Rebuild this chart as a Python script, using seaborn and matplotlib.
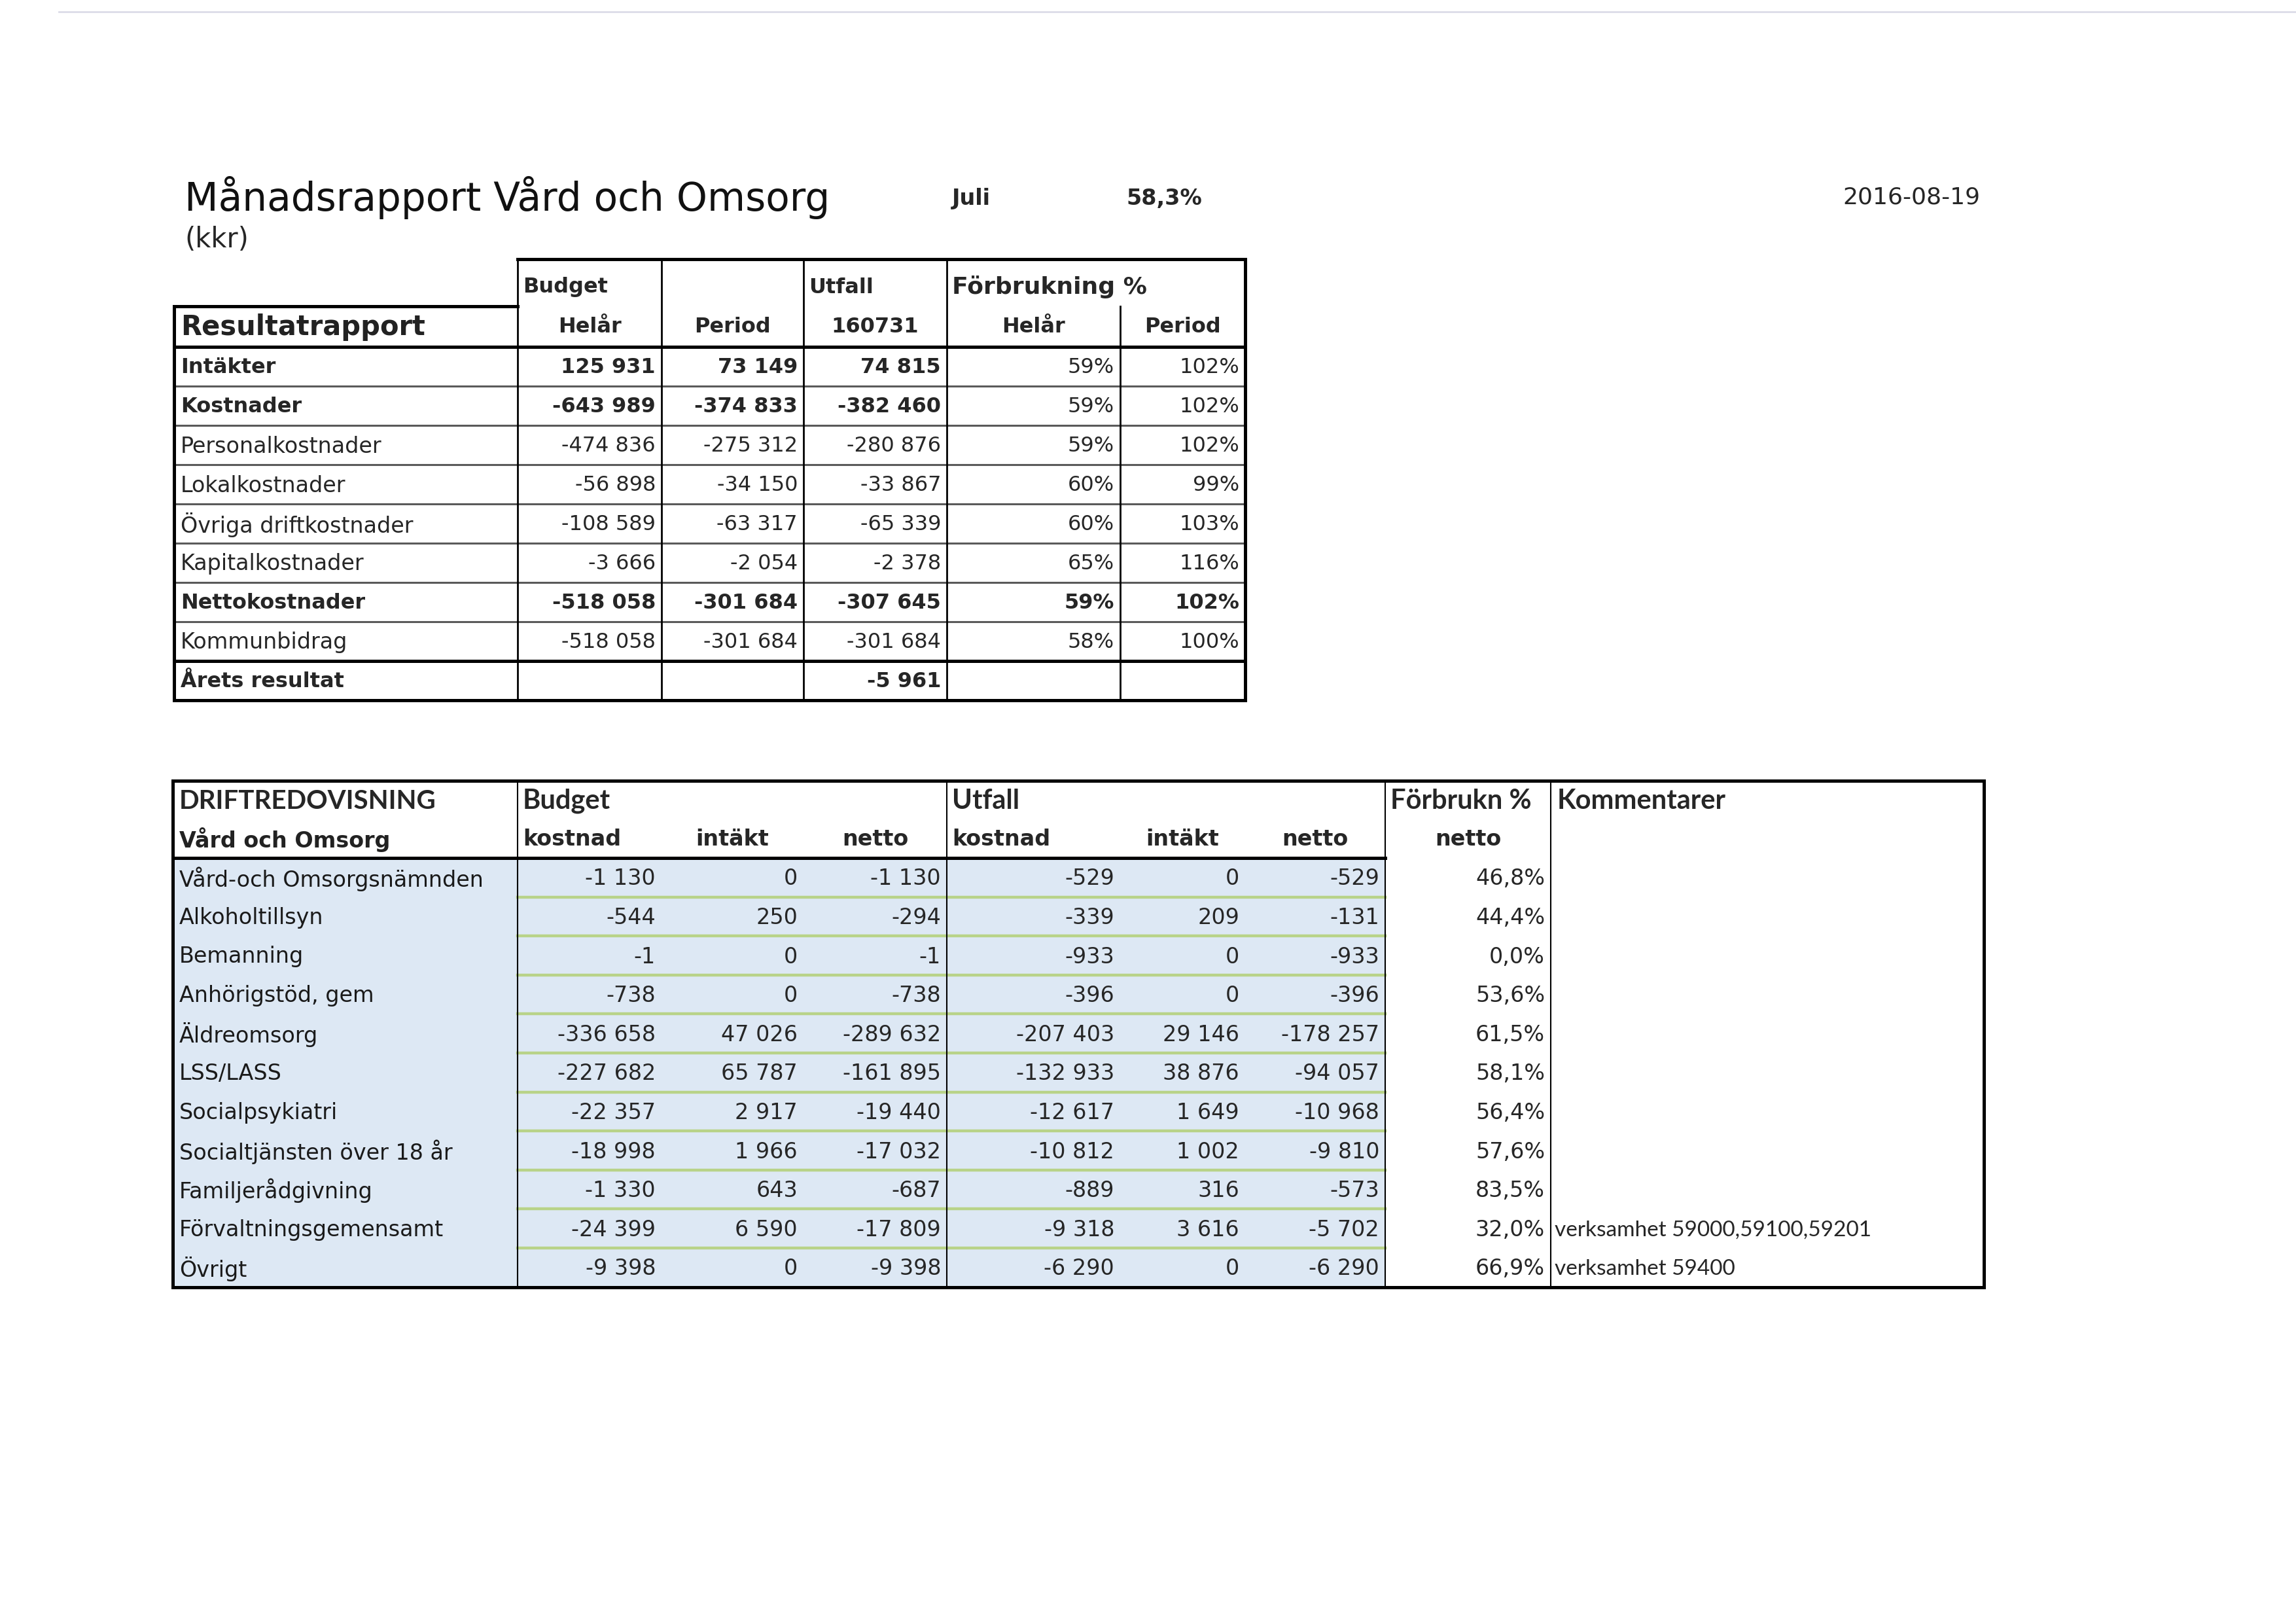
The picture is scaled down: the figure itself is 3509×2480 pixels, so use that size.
"""
Månadsrapport Vård och Omsorg - Juli 2016
Rebuild of the scanned monthly report tables
"""

import numpy as np
import matplotlib
matplotlib.use('Agg')
import matplotlib.pyplot as plt
import seaborn as sns

sns.set_theme(style='white')
plt.rcParams['font.family'] = ['DejaVu Sans']

# ============================================================================
# DATA
# ============================================================================
report_title = 'Månadsrapport Vård och Omsorg'
report_month = 'Juli'
report_share = '58,3%'
report_date = '2016-08-19'
report_unit = '(kkr)'

# Resultatrapport
res_labels = ['Intäkter', 'Kostnader', 'Personalkostnader', 'Lokalkostnader',
              'Övriga driftkostnader', 'Kapitalkostnader', 'Nettokostnader',
              'Kommunbidrag', 'Årets resultat']
res_bold = [True, True, False, False, False, False, True, False, True]
res_budget_helar = [125931, -643989, -474836, -56898, -108589, -3666, -518058, -518058, None]
res_budget_period = [73149, -374833, -275312, -34150, -63317, -2054, -301684, -301684, None]
res_utfall = [74815, -382460, -280876, -33867, -65339, -2378, -307645, -301684, -5961]
res_forbr_helar = [59, 59, 59, 60, 60, 65, 59, 58, None]
res_forbr_period = [102, 102, 102, 99, 103, 116, 102, 100, None]
res_utfall_date = '160731'

# Driftredovisning
drift_labels = ['Vård-och Omsorgsnämnden', 'Alkoholtillsyn', 'Bemanning',
                'Anhörigstöd, gem', 'Äldreomsorg', 'LSS/LASS', 'Socialpsykiatri',
                'Socialtjänsten över 18 år', 'Familjerådgivning',
                'Förvaltningsgemensamt', 'Övrigt']
budget_kostnad = [-1130, -544, -1, -738, -336658, -227682, -22357, -18998, -1330, -24399, -9398]
budget_intakt = [0, 250, 0, 0, 47026, 65787, 2917, 1966, 643, 6590, 0]
budget_netto = [-1130, -294, -1, -738, -289632, -161895, -19440, -17032, -687, -17809, -9398]
utfall_kostnad = [-529, -339, -933, -396, -207403, -132933, -12617, -10812, -889, -9318, -6290]
utfall_intakt = [0, 209, 0, 0, 29146, 38876, 1649, 1002, 316, 3616, 0]
utfall_netto = [-529, -131, -933, -396, -178257, -94057, -10968, -9810, -573, -5702, -6290]
forbrukn_netto = [46.8, 44.4, 0.0, 53.6, 61.5, 58.1, 56.4, 57.6, 83.5, 32.0, 66.9]
kommentarer = ['', '', '', '', '', '', '', '', '',
               'verksamhet 59000,59100,59201', 'verksamhet 59400']


def kr(v):
    # swedish thousands separator
    return '' if v is None else f'{v:,}'.replace(',', ' ')


def pct0(v):
    return '' if v is None else f'{v:.0f}%'


def pct1(v):
    return f'{v:.1f}%'.replace('.', ',')


# ============================================================================
# LAYOUT (pixel grid of the page)
# ============================================================================
W, H = 3509, 2480
COL_X = [266, 791, 1011, 1228, 1447, 1712, 1903, 2117, 2370, 3032]
PAD = 9

THICK = 3.6
THIN = 1.5

fig = plt.figure(figsize=(W / 100, H / 100), dpi=100)
ax = fig.add_axes([0, 0, 1, 1])
ax.set_xlim(0, W)
ax.set_ylim(H, 0)
ax.axis('off')


def hline(y, x0, x1, lw=THIN, color='black'):
    ax.plot([x0, x1], [y, y], color=color, lw=lw, solid_capstyle='projecting')


def vline(x, y0, y1, lw=THIN, color='black'):
    ax.plot([x, x], [y0, y1], color=color, lw=lw, solid_capstyle='projecting')


# faint scanner line at the top of the page
hline(18, 90, W, lw=2.0, color='#dcdce8')

# ============================================================================
# PAGE HEADER
# ============================================================================
ax.text(282, 322, report_title, fontsize=43, ha='left', va='baseline', color='#111111')
ax.text(1455, 313, report_month, fontsize=24, fontweight='bold', ha='left', va='baseline')
ax.text(1721, 313, report_share, fontsize=24, fontweight='bold', ha='left', va='baseline')
ax.text(3026, 312, report_date, fontsize=26, ha='right', va='baseline')
ax.text(282, 378, report_unit, fontsize=30, ha='left', va='baseline')

# ============================================================================
# TABLE 1: RESULTATRAPPORT
# ============================================================================
t1_top, t1_lab_top, t1_head_bot, t1_row_h = 396, 468, 530, 60
t1_n = len(res_labels)
t1_bot = t1_head_bot + t1_n * t1_row_h
t1_right = COL_X[6]

# header texts
h1_y, h2_y = 439, 500
ax.text(COL_X[1] + 8, h1_y, 'Budget', fontsize=23, fontweight='bold', va='center')
ax.text(COL_X[3] + 8, h1_y, 'Utfall', fontsize=23, fontweight='bold', va='center')
ax.text(COL_X[4] + 8, h1_y, 'Förbrukning %', fontsize=26, fontweight='bold', va='center')
ax.text(COL_X[0] + 10, h2_y, 'Resultatrapport', fontsize=30, fontweight='bold',
        va='center', color='#222222')
for j, txt in enumerate(['Helår', 'Period', res_utfall_date, 'Helår', 'Period']):
    xc = (COL_X[j + 1] + COL_X[j + 2]) / 2
    ax.text(xc, h2_y, txt, fontsize=23, fontweight='bold', ha='center', va='center')

# body
cols1 = [res_budget_helar, res_budget_period, res_utfall]
for i, lab in enumerate(res_labels):
    yc = t1_head_bot + (i + 0.5) * t1_row_h + 2
    w = 'bold' if res_bold[i] else 'normal'
    ax.text(COL_X[0] + 10, yc, lab, fontsize=24 if not res_bold[i] else 23,
            fontweight=w, va='center')
    for j, col in enumerate(cols1):
        ax.text(COL_X[j + 2] - PAD, yc, kr(col[i]), fontsize=23, fontweight=w,
                ha='right', va='center')
    wp = 'bold' if lab == 'Nettokostnader' else 'normal'
    ax.text(COL_X[5] - PAD, yc, pct0(res_forbr_helar[i]), fontsize=23, fontweight=wp,
            ha='right', va='center')
    ax.text(COL_X[6] - PAD, yc, pct0(res_forbr_period[i]), fontsize=23, fontweight=wp,
            ha='right', va='center')

# grid
for k in range(1, t1_n - 1):
    hline(t1_head_bot + k * t1_row_h, COL_X[0], t1_right, lw=2.2, color='#5a5a5a')
hline(t1_top, COL_X[1], t1_right, lw=THICK)
hline(t1_lab_top, COL_X[0], COL_X[1], lw=THICK)
hline(t1_head_bot, COL_X[0], t1_right, lw=THICK)
hline(t1_bot - t1_row_h, COL_X[0], t1_right, lw=THICK)
hline(t1_bot, COL_X[0], t1_right, lw=THICK)
vline(COL_X[0], t1_lab_top, t1_bot, lw=THICK)
for x in COL_X[1:5]:
    vline(x, t1_top, t1_bot, lw=2.0)
vline(COL_X[5], t1_lab_top, t1_bot, lw=2.0)
vline(t1_right, t1_top, t1_bot, lw=THICK)

# ============================================================================
# TABLE 2: DRIFTREDOVISNING
# ============================================================================
t2_top, t2_head_bot, t2_row_h = 1193, 1311, 59.6
t2_n = len(drift_labels)
t2_bot = t2_head_bot + t2_n * t2_row_h
t2_left, t2_right = 264, COL_X[9]

# light blue body + green row lines
ax.add_patch(plt.Rectangle((t2_left, t2_head_bot), COL_X[7] - t2_left,
                           t2_bot - t2_head_bot, facecolor='#dde8f4',
                           edgecolor='none', zorder=0))
for k in range(1, t2_n):
    hline(t2_head_bot + k * t2_row_h, COL_X[1], COL_X[7], lw=3.2, color='#b8d388')

# header texts
g1_y, g2_y = 1224, 1283
ax.text(t2_left + 10, g1_y, 'DRIFTREDOVISNING', family='Lato', fontsize=29,
        fontweight='bold', va='center')
ax.text(COL_X[1] + 8, g1_y, 'Budget', family='Lato', fontsize=30, fontweight='bold', va='center')
ax.text(COL_X[4] + 8, g1_y, 'Utfall', family='Lato', fontsize=30, fontweight='bold', va='center')
ax.text(COL_X[7] + 8, g1_y, 'Förbrukn %', family='Lato', fontsize=30, fontweight='bold', va='center')
ax.text(COL_X[8] + 10, g1_y, 'Kommentarer', family='Lato', fontsize=30, fontweight='bold', va='center')

ax.text(t2_left + 10, g2_y, 'Vård och Omsorg', fontsize=24, fontweight='bold', va='center',
        color='#222222')
sub_heads = ['kostnad', 'intäkt', 'netto', 'kostnad', 'intäkt', 'netto', 'netto']
for j, txt in enumerate(sub_heads):
    if txt == 'kostnad':
        ax.text(COL_X[j + 1] + 8, g2_y, txt, fontsize=24, fontweight='bold', va='center')
    else:
        xc = (COL_X[j + 1] + COL_X[j + 2]) / 2
        ax.text(xc, g2_y, txt, fontsize=24, fontweight='bold', ha='center', va='center')

# body
cols2 = [budget_kostnad, budget_intakt, budget_netto,
         utfall_kostnad, utfall_intakt, utfall_netto]
for i, lab in enumerate(drift_labels):
    yc = t2_head_bot + (i + 0.5) * t2_row_h + 2
    ax.text(t2_left + 10, yc, lab, fontsize=24, va='center', color='#1a1a1a')
    for j, col in enumerate(cols2):
        ax.text(COL_X[j + 2] - PAD, yc, kr(col[i]), fontsize=24, ha='right', va='center')
    ax.text(COL_X[8] - PAD, yc, pct1(forbrukn_netto[i]), fontsize=24, ha='right', va='center')
    if kommentarer[i]:
        ax.text(COL_X[8] + 6, yc, kommentarer[i], family='Lato', fontsize=24,
                ha='left', va='center')

# grid
hline(t2_top, t2_left, t2_right, lw=THICK)
hline(t2_head_bot, t2_left, COL_X[7], lw=THICK)
hline(t2_bot, t2_left, t2_right, lw=THICK)
vline(t2_left, t2_top, t2_bot, lw=THICK)
vline(t2_right, t2_top, t2_bot, lw=THICK)
for x in [COL_X[1], COL_X[4], COL_X[7], COL_X[8]]:
    vline(x, t2_top, t2_bot, lw=THIN)

fig.savefig('out.png', dpi=100, facecolor='white')
plt.close(fig)
